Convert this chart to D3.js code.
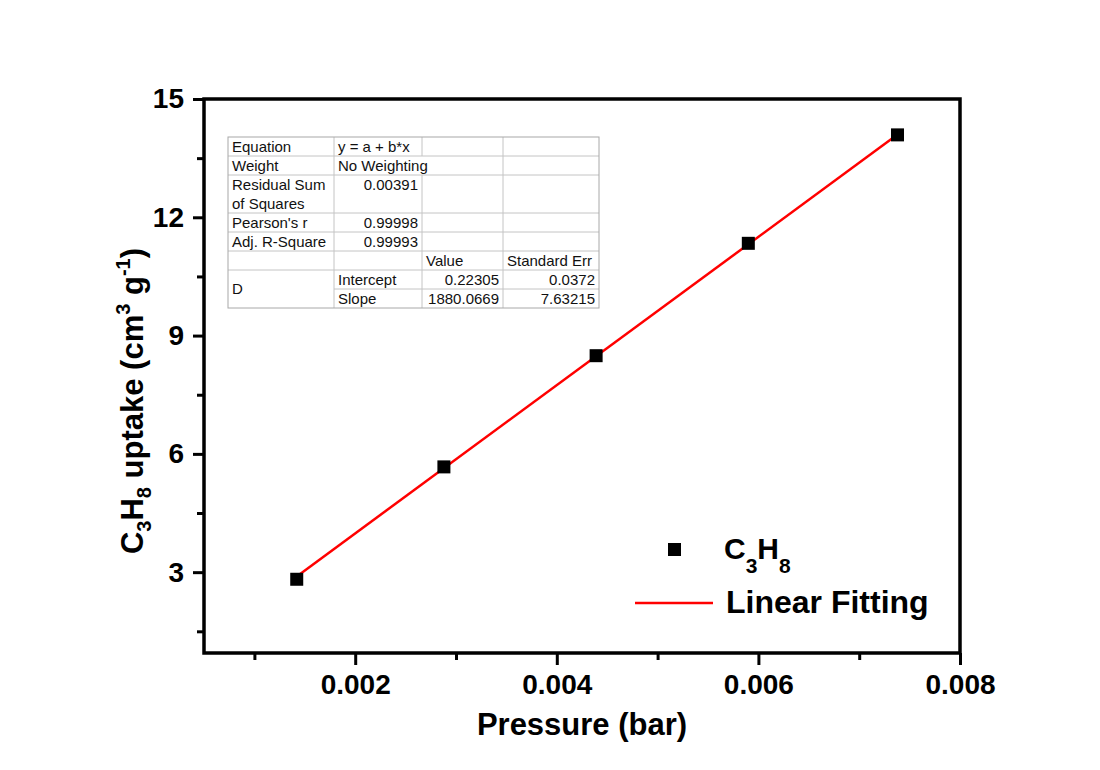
<!DOCTYPE html>
<html>
<head>
<meta charset="utf-8">
<script src="https://cdn.jsdelivr.net/npm/d3@7/dist/d3.min.js"></script>
<style>
    body { margin: 0; background: #fff; }
    svg { font-family: "Liberation Sans", Arial, sans-serif; }
</style>
</head>
<body>
<div id="chart"></div>
<script>
// data
const pressure = [0.00142, 0.00288, 0.00439, 0.0059, 0.00738];
const uptake = [2.82, 5.67, 8.49, 11.34, 14.09];
const fitIntercept = 0.22305;
const fitSlope = 1880.0669;

const xMajorTicks = [0.002, 0.004, 0.006, 0.008];
const xMinorTicks = [0.001, 0.003, 0.005, 0.007];
const yMajorTicks = [3, 6, 9, 12, 15];
const yMinorTicks = [1.5, 4.5, 7.5, 10.5, 13.5];

// fit report table (Origin style)
const tableRows = [
    ["Equation", "y = a + b*x", "", ""],
    ["Weight", "No Weighting", "", ""],
    ["Residual Sum\nof Squares", "0.00391", "", ""],
    ["Pearson's r", "0.99998", "", ""],
    ["Adj. R-Square", "0.99993", "", ""],
    ["", "", "Value", "Standard Err"],
    ["D", "Intercept", "0.22305", "0.0372"],
    ["", "Slope", "1880.0669", "7.63215"]
];

document.addEventListener("DOMContentLoaded", function(){
    var W = 1100, H = 770;
    var left = 204, right = 960, top = 99, bottom = 653;
    var svg = d3.select("#chart").append("svg")
        .attr("width", W).attr("height", H);

    var x = d3.scaleLinear().domain([0.0005, 0.008]).range([left, right]);
    var y = d3.scaleLinear().domain([0.95, 15]).range([bottom, top]);

    // x axis, major + minor
    svg.append("g").attr("transform", "translate(0," + bottom + ")")
        .call(d3.axisBottom(x).tickValues(xMajorTicks).tickSize(12).tickPadding(9)
            .tickFormat(d3.format(".3f")));
    svg.append("g").attr("transform", "translate(0," + bottom + ")")
        .call(d3.axisBottom(x).tickValues(xMinorTicks).tickSize(7).tickFormat(""));
    // y axis
    svg.append("g").attr("transform", "translate(" + left + ",0)")
        .call(d3.axisLeft(y).tickValues(yMajorTicks).tickSize(11).tickPadding(9)
            .tickFormat(d3.format("d")));
    svg.append("g").attr("transform", "translate(" + left + ",0)")
        .call(d3.axisLeft(y).tickValues(yMinorTicks).tickSize(7).tickFormat(""));

    svg.selectAll(".domain").remove();
    svg.selectAll(".tick line").attr("stroke", "#000").attr("stroke-width", 3);
    svg.selectAll(".tick text")
        .attr("fill", "#000")
        .style("font-size", "28px")
        .style("font-weight", "bold")
        .style("font-family", '"Liberation Sans", Arial, sans-serif');

    // frame
    svg.append("rect")
        .attr("x", left).attr("y", top)
        .attr("width", right - left).attr("height", bottom - top)
        .attr("fill", "none").attr("stroke", "#000").attr("stroke-width", 3.5);

    // axis titles
    svg.append("text")
        .attr("x", (left + right) / 2).attr("y", 735)
        .attr("text-anchor", "middle")
        .style("font-size", "31px").style("font-weight", "bold")
        .text("Pressure (bar)");

    var yTitle = svg.append("text")
        .attr("transform", "translate(143,401) rotate(-90)")
        .attr("text-anchor", "middle")
        .style("font-size", "31px").style("font-weight", "bold");
    yTitle.append("tspan").text("C");
    yTitle.append("tspan").attr("dy", 8).style("font-size", "20px").text("3");
    yTitle.append("tspan").attr("dy", -8).text("H");
    yTitle.append("tspan").attr("dy", 8).style("font-size", "20px").text("8");
    yTitle.append("tspan").attr("dy", -8).text(" uptake (cm");
    yTitle.append("tspan").attr("dy", -13).style("font-size", "20px").text("3");
    yTitle.append("tspan").attr("dy", 13).text(" g");
    yTitle.append("tspan").attr("dy", -13).style("font-size", "20px").text("-1");
    yTitle.append("tspan").attr("dy", 13).text(")");

    // linear fit over the data range
    var xFit = d3.extent(pressure);
    svg.append("line")
        .attr("x1", x(xFit[0])).attr("y1", y(fitIntercept + fitSlope * xFit[0]))
        .attr("x2", x(xFit[1])).attr("y2", y(fitIntercept + fitSlope * xFit[1]))
        .attr("stroke", "#ff0000").attr("stroke-width", 2.5);

    // data points
    var sq = 13;
    svg.selectAll(".pt").data(pressure).enter().append("rect")
        .attr("class", "pt")
        .attr("x", (d) => x(d) - sq / 2)
        .attr("y", (d, i) => y(uptake[i]) - sq / 2)
        .attr("width", sq).attr("height", sq)
        .attr("fill", "#000");

    // legend
    svg.append("rect").attr("x", 668).attr("y", 543).attr("width", 13).attr("height", 13).attr("fill", "#000");
    var lg1 = svg.append("text").attr("x", 724).attr("y", 559)
        .style("font-size", "30px").style("font-weight", "bold");
    lg1.append("tspan").text("C");
    lg1.append("tspan").attr("dy", 14).style("font-size", "21px").text("3");
    lg1.append("tspan").attr("dy", -14).text("H");
    lg1.append("tspan").attr("dy", 14).style("font-size", "21px").text("8");
    svg.append("line").attr("x1", 635).attr("x2", 713).attr("y1", 603).attr("y2", 603)
        .attr("stroke", "#ff0000").attr("stroke-width", 2.5);
    svg.append("text").attr("x", 726).attr("y", 613)
        .style("font-size", "32px").style("font-weight", "bold")
        .text("Linear Fitting");

    // fit report table
    var tx = 228, ty = 137;
    var colW = [106, 88, 81, 96];
    var rowH = [19, 19, 38, 19, 19, 19, 19, 19];
    var colX = [tx], rowY = [ty];
    colW.forEach((w, i) => colX.push(colX[i] + w));
    rowH.forEach((h, i) => rowY.push(rowY[i] + h));
    var tbl = svg.append("g");
    tbl.append("rect").attr("x", tx).attr("y", ty)
        .attr("width", colX[4] - tx).attr("height", rowY[8] - ty)
        .attr("fill", "#fff");

    var overflow = [];
    var txt = tbl.append("g").style("font-size", "15px").attr("fill", "#111");
    tableRows.forEach(function(row, r){
        overflow.push([]);
        row.forEach(function(cell, c){
            var isNum = /^[\d.]+$/.test(cell);
            var lines = cell.split("\n");
            var baseY = rowY[r] + 15;
            // "D" label spans the two last rows
            if (cell == "D") baseY = rowY[r] + 24;
            var t = txt.append("text")
                .attr("x", isNum ? colX[c + 1] - 4 : colX[c] + 4)
                .attr("text-anchor", isNum ? "end" : "start");
            lines.forEach(function(s, k){
                t.append("tspan").attr("x", isNum ? colX[c + 1] - 4 : colX[c] + 4)
                    .attr("y", baseY + k * 18.5).text(s);
            });
            overflow[r].push(t.node().getComputedTextLength() + 8 > colW[c]);
        });
    });

    var grid = tbl.insert("g", "g").attr("stroke", "#c4c4c4").attr("stroke-width", 1);
    for (var r = 1; r < rowH.length; r++) {
        var x0 = colX[0];
        if (tableRows[r][0] == "" && tableRows[r - 1][0] == "D") x0 = colX[1];
        grid.append("line").attr("x1", x0).attr("x2", colX[4])
            .attr("y1", rowY[r]).attr("y2", rowY[r]);
    }
    for (var c = 1; c < colW.length; c++) {
        for (var r = 0; r < rowH.length; r++) {
            if (overflow[r][c - 1] && tableRows[r][c] == "") continue;
            grid.append("line").attr("x1", colX[c]).attr("x2", colX[c])
                .attr("y1", rowY[r]).attr("y2", rowY[r + 1]);
        }
    }
    tbl.append("rect").attr("x", tx).attr("y", ty)
        .attr("width", colX[4] - tx).attr("height", rowY[8] - ty)
        .attr("fill", "none").attr("stroke", "#a8a8a8").attr("stroke-width", 1);
});
</script>
</body>
</html>
